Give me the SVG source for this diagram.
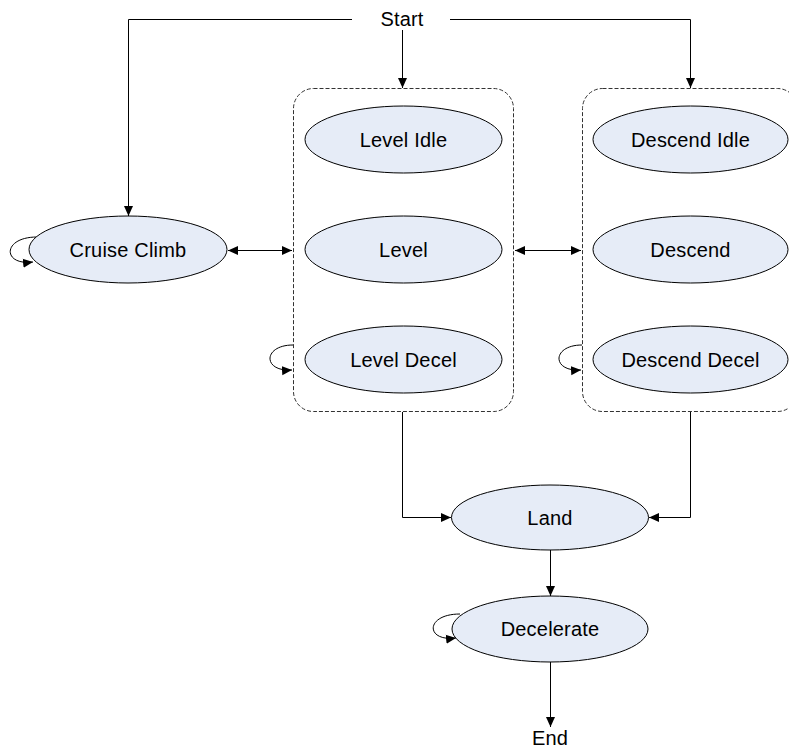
<svg xmlns="http://www.w3.org/2000/svg" width="789" height="748" viewBox="0 0 789 748">
<defs>
<marker id="ah" viewBox="0 0 10 10" refX="10" refY="5" markerWidth="10" markerHeight="10" markerUnits="userSpaceOnUse" orient="auto-start-reverse">
<path d="M0,0.5 L10,5 L0,9.5 Z" fill="#000"/>
</marker>
<style>
.node ellipse{fill:#e6ecf7;stroke:#000;stroke-width:1}
.lbl{font-family:"Liberation Sans",Arial,sans-serif;font-size:20px;fill:#000;text-anchor:middle;letter-spacing:0.2px}
.cont{fill:none;stroke:#333;stroke-width:1;stroke-dasharray:4,2}
.edge{fill:none;stroke:#000;stroke-width:1}
.arr{marker-end:url(#ah)}
.darr{marker-start:url(#ah);marker-end:url(#ah)}
</style>
</defs>
<rect width="789" height="748" fill="#fff"/>
<g id="containers">
<rect id="level-group" class="cont" x="293.5" y="88.5" width="220" height="323" rx="20" ry="20"/>
<rect id="descend-group" class="cont" x="582.5" y="88.5" width="215" height="323" rx="20" ry="20"/>
</g>
<g id="connectors">
<path class="edge arr" d="M352,19.5 H128.5 V216"/>
<path class="edge arr" d="M450,19.5 H690.5 V88"/>
<path class="edge arr" d="M402.5,30 V88"/>
<path class="edge darr" d="M228,250.5 H292"/>
<path class="edge darr" d="M515,250.5 H581"/>
<path class="edge arr" d="M402.5,412 V517.5 H451"/>
<path class="edge arr" d="M690.5,412 V517.5 H649"/>
<path class="edge arr" d="M550.5,550 V596"/>
<path class="edge arr" d="M550.5,662 V727"/>
<path class="edge arr" d="M37,237 C2,237 2,266 33,262"/>
<path class="edge arr" d="M293,345 C263,345 262,372 292,370"/>
<path class="edge arr" d="M582,345 C552,345 551,372 581,370"/>
<path class="edge arr" d="M460,614 C425,614 425,642 456,638"/>
</g>
<g id="start"><text class="lbl" x="402" y="26">Start</text></g>
<g id="cruise-climb" class="node"><ellipse cx="128" cy="249.5" rx="99" ry="33.5"/><text class="lbl" x="128" y="256.5">Cruise Climb</text></g>
<g id="level-idle" class="node"><ellipse cx="403.5" cy="139.5" rx="98.5" ry="33.5"/><text class="lbl" x="403.5" y="146.5">Level Idle</text></g>
<g id="level" class="node"><ellipse cx="403.5" cy="249.5" rx="98.5" ry="33.5"/><text class="lbl" x="403.5" y="256.5">Level</text></g>
<g id="level-decel" class="node"><ellipse cx="403.5" cy="359.5" rx="98.5" ry="33.5"/><text class="lbl" x="403.5" y="366.5">Level Decel</text></g>
<g id="descend-idle" class="node"><ellipse cx="690.5" cy="139.5" rx="97.5" ry="33.5"/><text class="lbl" x="690.5" y="146.5">Descend Idle</text></g>
<g id="descend" class="node"><ellipse cx="690.5" cy="249.5" rx="97.5" ry="33.5"/><text class="lbl" x="690.5" y="256.5">Descend</text></g>
<g id="descend-decel" class="node"><ellipse cx="690.5" cy="359.5" rx="97.5" ry="33.5"/><text class="lbl" x="690.5" y="366.5">Descend Decel</text></g>
<g id="land" class="node"><ellipse cx="550" cy="517.5" rx="98.5" ry="32.5"/><text class="lbl" x="550" y="524.5">Land</text></g>
<g id="decelerate" class="node"><ellipse cx="550" cy="629" rx="98" ry="33"/><text class="lbl" x="550" y="636">Decelerate</text></g>
<g id="end"><text class="lbl" x="550" y="745">End</text></g>
</svg>
